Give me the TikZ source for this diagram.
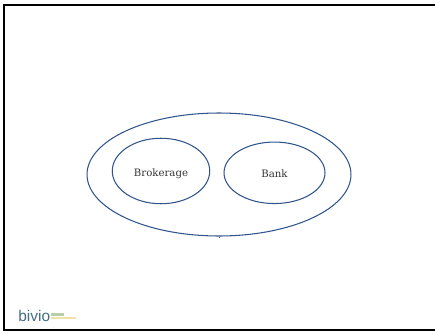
\documentclass[tikz,border=0pt]{standalone}
\usepackage{fontspec}
\setmainfont{DejaVu Serif}
\newfontfamily\logofont{Liberation Sans}
\usetikzlibrary{positioning,shapes.geometric}
\definecolor{ringblue}{RGB}{47,85,140}
\definecolor{logoblue}{RGB}{70,110,130}
\definecolor{logogreen}{RGB}{185,205,170}
\definecolor{logoyellow}{RGB}{240,225,165}
\begin{document}
\begin{tikzpicture}[
		x=0.02cm,y=-0.02cm,
		ring/.style={
			ellipse,
			draw=ringblue,
			line width=0.6pt,
			inner sep=0pt
		},
		account/.style={
			ring,
			font=\fontsize{5.8pt}{7pt}\selectfont,
			text=black!80,
			text height=1.5ex,
			text depth=0.4ex
		},
		logotext/.style={
			inner sep=0pt,
			text=logoblue,
			font=\logofont\fontsize{8.8pt}{10pt}\selectfont
		}
		]
		\useasboundingbox (0,0) rectangle (435,331);
		% frame is open on the right
		\draw[line width=1.3pt] (435,5) -- (4,5) -- (4,330) -- (435,330);
		\node[ring,minimum width=5.28cm,minimum height=2.46cm] (outer) at (219,174.5) {};
		\node[account,minimum width=1.95cm,minimum height=1.31cm] (brokerage) at (161,171) {Brokerage\hspace{1pt}};
		\node[account,minimum width=2.02cm,minimum height=1.23cm] (bank) at (274.5,172.8) {Bank};
		\node[logotext,anchor=west] (logo) at (18,315.5) {bivio};
		\fill[logogreen] (51,313) rectangle (64,316);
		\fill[logoyellow] (51,316.5) rectangle (76,318.5);
		\draw[ringblue,line width=0.4pt] (outer.south) -- ++(0,1);
		\end{tikzpicture}
\end{document}
